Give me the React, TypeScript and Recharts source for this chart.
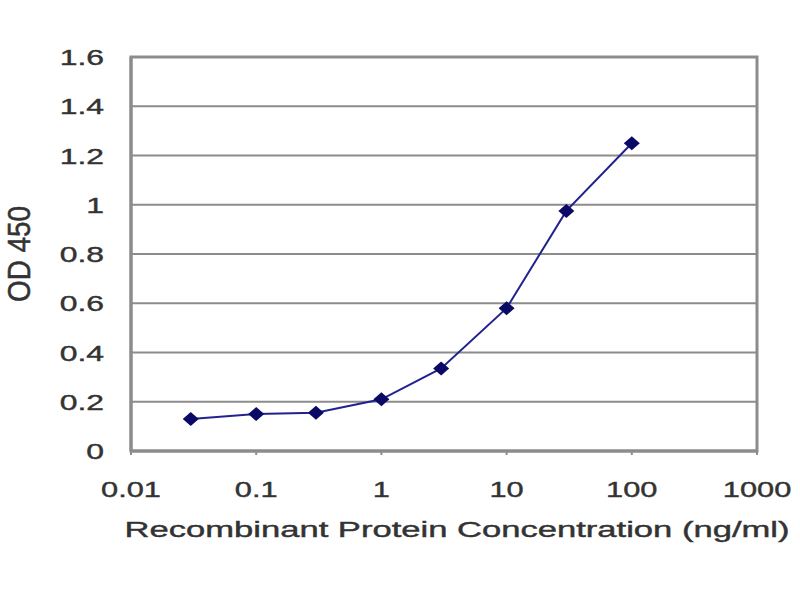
import React from "react";
import {
  LineChart,
  Line,
  XAxis,
  YAxis,
  CartesianGrid,
  ReferenceArea,
} from "recharts";

const concentrations = [0.03, 0.1, 0.3, 1, 3, 10, 30, 100];
const od450 = [0.13, 0.15, 0.155, 0.21, 0.335, 0.58, 0.975, 1.25];

const xTicks = [0.01, 0.1, 1, 10, 100, 1000];
const xTickLabels = ["0.01", "0.1", "1", "10", "100", "1000"];
const yTicks = [0, 0.2, 0.4, 0.6, 0.8, 1, 1.2, 1.4, 1.6];
const yTickLabels = ["0", "0.2", "0.4", "0.6", "0.8", "1", "1.2", "1.4", "1.6"];

const xTitle = "Recombinant Protein Concentration (ng/ml)";
const yTitle = "OD 450";

const data = concentrations.map((c, i) => ({ conc: c, od: od450[i] }));

const FONT = "'Liberation Sans', Arial, sans-serif";
const TEXT = "#333333";
const GRID = "#8c8c8c";

// the original picture is stretched sideways, so text is widened too
const XTick = ({ x, y, payload }: any) => {
  const i = xTicks.indexOf(payload.value);
  return (
    <g transform={`translate(${x},${y})`}>
      <text
        transform="scale(1.4,1)"
        y={42}
        textAnchor="middle"
        fill={TEXT}
        stroke={TEXT}
        strokeWidth={0.4}
        fontSize={22}
        fontFamily={FONT}
      >
        {i >= 0 ? xTickLabels[i] : payload.value}
      </text>
    </g>
  );
};

const YTick = ({ x, y, payload }: any) => {
  const i = yTicks.indexOf(payload.value);
  return (
    <g transform={`translate(${x},${y})`}>
      <text
        transform="scale(1.45,1)"
        y={8}
        textAnchor="end"
        fill={TEXT}
        stroke={TEXT}
        strokeWidth={0.4}
        fontSize={22}
        fontFamily={FONT}
      >
        {i >= 0 ? yTickLabels[i] : payload.value}
      </text>
    </g>
  );
};

const XTitle = ({ viewBox }: any) => {
  const cx = viewBox.x + viewBox.width / 2 + 13;
  return (
    <text
      x={cx}
      y={viewBox.y + 86}
      textAnchor="middle"
      textLength={665}
      lengthAdjust="spacingAndGlyphs"
      fill={TEXT}
      stroke={TEXT}
      strokeWidth={0.4}
      fontSize={22}
      fontFamily={FONT}
    >
      {xTitle}
    </text>
  );
};

const YTitle = ({ viewBox }: any) => {
  const cy = viewBox.y + viewBox.height / 2;
  return (
    <g transform={`translate(30,${cy}) scale(1.4,1) rotate(-90)`}>
      <text
        x={0}
        y={0}
        textAnchor="middle"
        textLength={96}
        lengthAdjust="spacingAndGlyphs"
        fill={TEXT}
        stroke={TEXT}
        strokeWidth={0.4}
        fontSize={22}
        fontFamily={FONT}
      >
        {yTitle}
      </text>
    </g>
  );
};

const Diamond = ({ cx, cy }: any) => {
  if (cx == null || cy == null) return null;
  return (
    <polygon
      points={`${cx},${cy - 7} ${cx + 8},${cy} ${cx},${cy + 7} ${cx - 8},${cy}`}
      fill="#0a0a66"
    />
  );
};

export default function App() {
  return (
    <div style={{ position: "absolute", left: 0, top: 0, background: "#fff" }}>
      <LineChart
        width={800}
        height={600}
        data={data}
        margin={{ top: 57, right: 43, left: 0, bottom: 0 }}
      >
        <CartesianGrid
          vertical={false}
          stroke={GRID}
          strokeWidth={2}
          horizontalValues={yTicks}
        />
        <XAxis
          dataKey="conc"
          type="number"
          scale="log"
          domain={[0.01, 1000]}
          ticks={xTicks}
          allowDataOverflow
          height={149}
          axisLine={{ stroke: GRID, strokeWidth: 3 }}
          tickLine={{ stroke: GRID, strokeWidth: 2 }}
          tickSize={4}
          tickMargin={0}
          tick={<XTick />}
          label={{ content: (p: any) => <XTitle {...p} /> }}
        />
        <YAxis
          type="number"
          domain={[0, 1.6]}
          ticks={yTicks}
          width={131}
          axisLine={{ stroke: GRID, strokeWidth: 3 }}
          tickLine={false}
          tickSize={0}
          tickMargin={27}
          tick={<YTick />}
          label={{ content: (p: any) => <YTitle {...p} /> }}
        />
        <ReferenceArea
          x1={0.01}
          x2={1000}
          y1={0}
          y2={1.6}
          fill="none"
          stroke={GRID}
          strokeWidth={3}
        />
        <Line
          dataKey="od"
          stroke="#22228f"
          strokeWidth={2}
          dot={<Diamond />}
          activeDot={false}
          isAnimationActive={false}
        />
      </LineChart>
    </div>
  );
}
